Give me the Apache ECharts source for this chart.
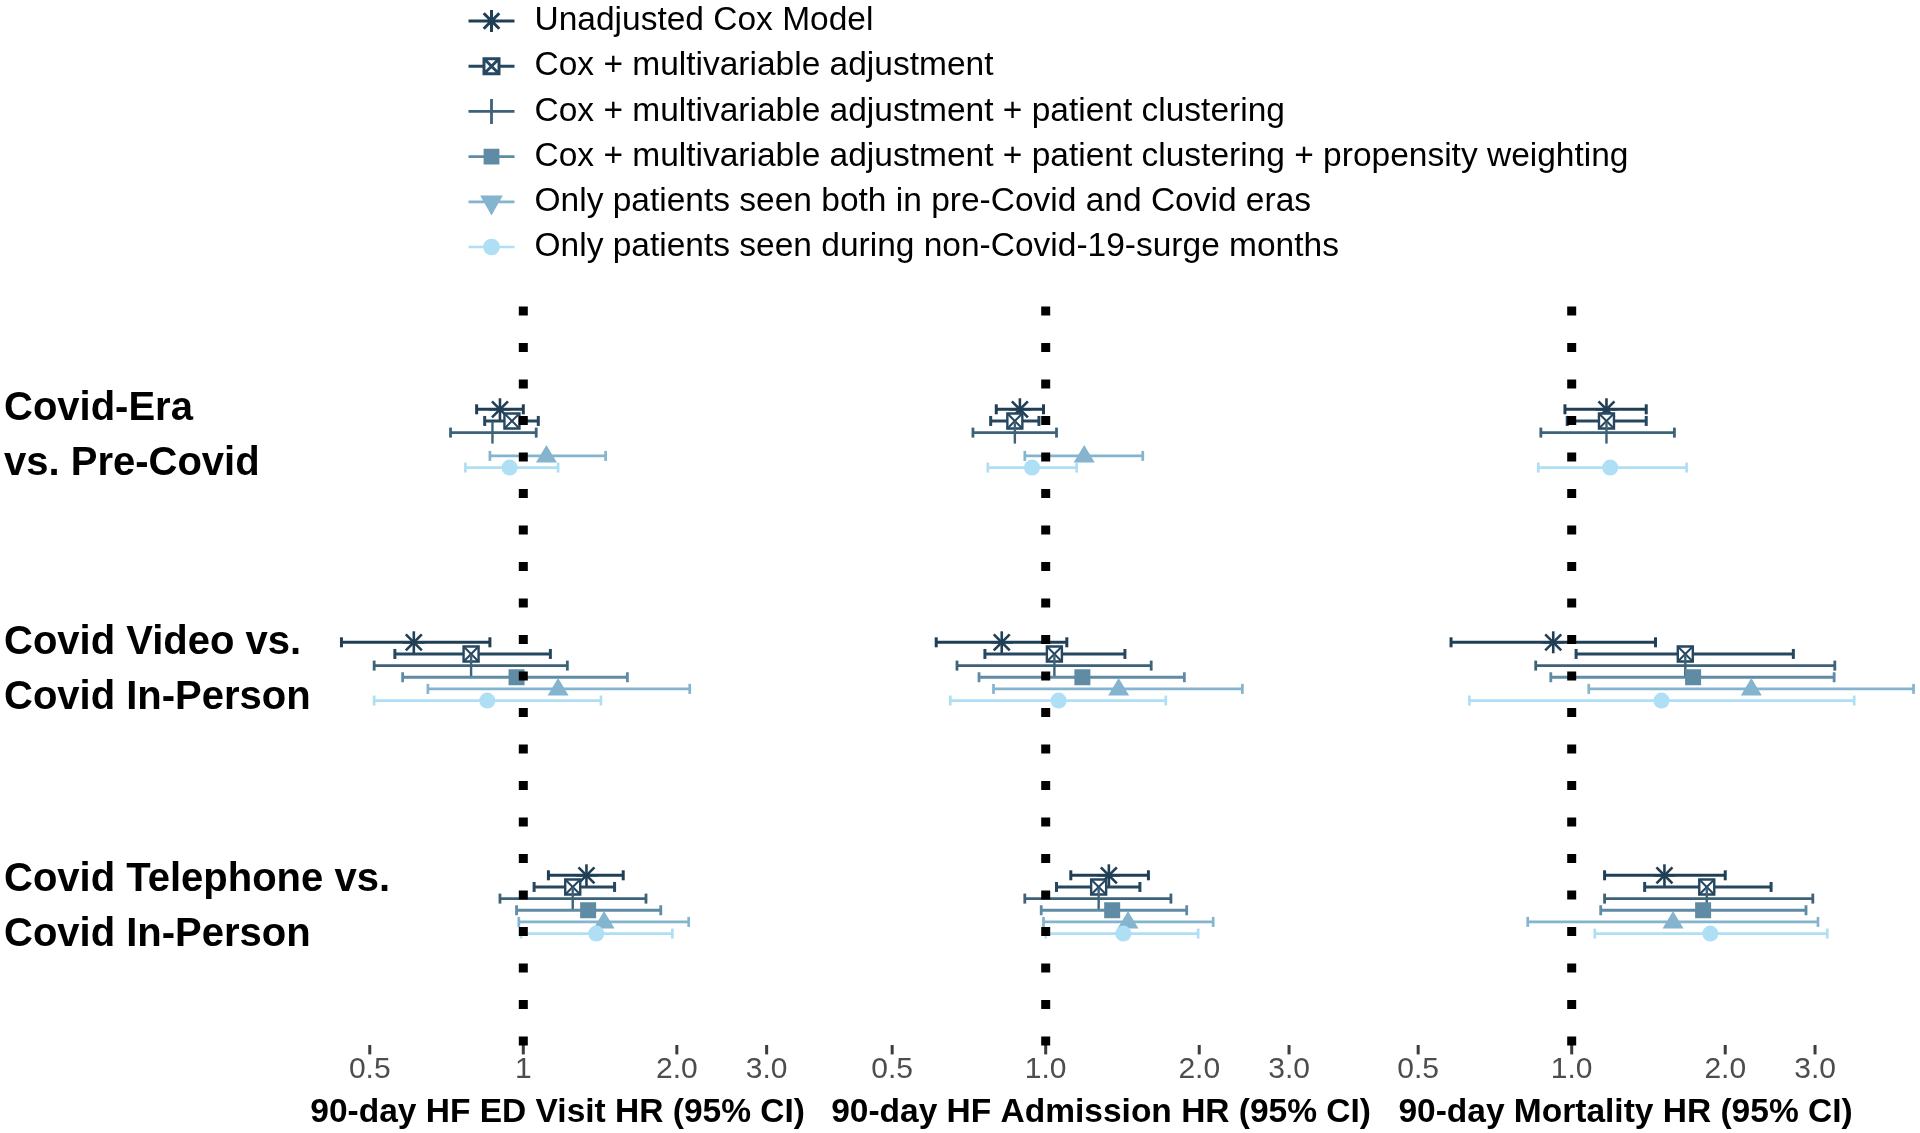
<!DOCTYPE html>
<html>
<head>
<meta charset="utf-8">
<title>Forest plot</title>
<script src="https://cdn.jsdelivr.net/npm/echarts@6/dist/echarts.min.js"></script>
<style>
html,body{margin:0;padding:0;background:#fff;}
#chart{width:1920px;height:1133px;}
</style>
</head>
<body>
<div id="chart"></div>
<script>
// ---------------- data ----------------
const GROUP_LABELS = ['Covid-Era\nvs. Pre-Covid', 'Covid Video vs.\nCovid In-Person', 'Covid Telephone vs.\nCovid In-Person'];
const MODELS = [
  'Unadjusted Cox Model',
  'Cox + multivariable adjustment',
  'Cox + multivariable adjustment + patient clustering',
  'Cox + multivariable adjustment + patient clustering + propensity weighting',
  'Only patients seen both in pre-Covid and Covid eras',
  'Only patients seen during non-Covid-19-surge months'
];
const OUTCOMES = ['90-day HF ED Visit HR (95% CI)', '90-day HF Admission HR (95% CI)', '90-day Mortality HR (95% CI)'];
const TICK_VALUES = [0.5, 1, 2, 3];
const TICK_LABELS_ED = ['0.5', '1', '2.0', '3.0'];
const TICK_LABELS_ADM = ['0.5', '1.0', '2.0', '3.0'];
const TICK_LABELS_MORT = ['0.5', '1.0', '2.0', '3.0'];

// [HR, lower 95% CI, upper 95% CI] for Covid-Era, Video, Telephone
const edUnadjusted     = [[0.90, 0.81, 1.00], [0.61, 0.44, 0.86], [1.33, 1.12, 1.57]];
const edMultivariable  = [[0.95, 0.84, 1.07], [0.79, 0.56, 1.13], [1.25, 1.05, 1.51]];
const edClustering     = [[0.87, 0.72, 1.06], [0.79, 0.51, 1.22], [1.25, 0.90, 1.74]];
const edPropensity     = [null,               [0.97, 0.58, 1.60], [1.34, 0.97, 1.86]];
const edBothEras       = [[1.11, 0.86, 1.45], [1.17, 0.65, 2.12], [1.44, 0.98, 2.11]];
const edNonSurge       = [[0.94, 0.77, 1.17], [0.85, 0.51, 1.42], [1.39, 0.99, 1.96]];

const admUnadjusted    = [[0.89, 0.80, 0.99], [0.82, 0.61, 1.10], [1.33, 1.12, 1.59]];
const admMultivariable = [[0.87, 0.78, 0.97], [1.04, 0.76, 1.43], [1.27, 1.05, 1.53]];
const admClustering    = [[0.87, 0.72, 1.05], [1.04, 0.67, 1.61], [1.27, 0.91, 1.76]];
const admPropensity    = [null,               [1.18, 0.74, 1.87], [1.35, 0.98, 1.89]];
const admBothEras      = [[1.19, 0.91, 1.55], [1.39, 0.79, 2.43], [1.45, 0.99, 2.13]];
const admNonSurge      = [[0.94, 0.77, 1.15], [1.06, 0.65, 1.72], [1.42, 1.00, 1.99]];

const mortUnadjusted    = [[1.17, 0.97, 1.40], [0.92, 0.58, 1.46], [1.52, 1.16, 2.00]];
const mortMultivariable = [[1.17, 0.98, 1.40], [1.67, 1.02, 2.72], [1.84, 1.39, 2.46]];
const mortClustering    = [[1.17, 0.87, 1.59], [1.67, 0.85, 3.28], [1.84, 1.16, 2.97]];
const mortPropensity    = [null,               [1.73, 0.91, 3.27], [1.81, 1.14, 2.88]];
const mortBothEras      = [null,               [2.25, 1.08, 4.68], [1.58, 0.82, 3.04]];
const mortNonSurge      = [[1.19, 0.86, 1.68], [1.50, 0.63, 3.58], [1.87, 1.11, 3.17]];

const REFERENCE_HR = 1;

// ---------------- layout / style ----------------
const PANEL_DATA = [
  [edUnadjusted, edMultivariable, edClustering, edPropensity, edBothEras, edNonSurge],
  [admUnadjusted, admMultivariable, admClustering, admPropensity, admBothEras, admNonSurge],
  [mortUnadjusted, mortMultivariable, mortClustering, mortPropensity, mortBothEras, mortNonSurge]
];
const PANEL_TICK_LABELS = [TICK_LABELS_ED, TICK_LABELS_ADM, TICK_LABELS_MORT];
const COLORS = ['#203f55', '#264760', '#3e6278', '#5f8ba5', '#84b4ce', '#aedff4'];
const LINE_W = [3, 3, 2.8, 2.8, 2.7, 2.7];
const FONT = '"Liberation Sans", Arial, Helvetica, sans-serif';

const ONE_PX = [523.3, 1045.7, 1571.7];   // pixel x of HR = 1 in each panel
const PX_PER_LN = 221.5;
const LN_RANGE = [[-0.85, 1.16], [-1.0, 1.5], [-1.08, 1.566]];
const GRID_TOP = 300, GRID_BOTTOM = 1055;
const TICK_TOP_PX = 1045;
const ROW0_PX = 409.3, ROW_PX = 11.65, ROWS_PER_GROUP = 20;
const Y_MIN = (GRID_TOP - ROW0_PX) / ROW_PX;
const Y_MAX = (GRID_BOTTOM - ROW0_PX) / ROW_PX;
const Y_TICK = (TICK_TOP_PX - ROW0_PX) / ROW_PX;
const REF_LINE_ROWS = [(306.5 - ROW0_PX) / ROW_PX, (1045.5 - ROW0_PX) / ROW_PX];
const GROUP_LABEL_ROWS = [2.3, 22.45, 42.8];

function rowOf(g, m) { return g * ROWS_PER_GROUP + m; }

function makeRenderItem(m) {
  return function (params, api) {
    const row = api.value(3);
    const p = api.coord([api.value(0), row]);
    const pLo = api.coord([api.value(1), row]);
    const pHi = api.coord([api.value(2), row]);
    const c = COLORS[m];
    const lw = LINE_W[m];
    const y = p[1];
    const kids = [
      { type: 'line', shape: { x1: pLo[0], y1: y, x2: pHi[0], y2: y }, style: { stroke: c, lineWidth: lw } },
      { type: 'line', shape: { x1: pLo[0], y1: y - 5, x2: pLo[0], y2: y + 5 }, style: { stroke: c, lineWidth: lw } },
      { type: 'line', shape: { x1: pHi[0], y1: y - 5, x2: pHi[0], y2: y + 5 }, style: { stroke: c, lineWidth: lw } }
    ];
    const x = p[0];
    if (m === 0) {
      kids.push({ type: 'line', shape: { x1: x, y1: y - 11, x2: x, y2: y + 11 }, style: { stroke: c, lineWidth: 2.6 } });
      kids.push({ type: 'line', shape: { x1: x - 8, y1: y - 8, x2: x + 8, y2: y + 8 }, style: { stroke: c, lineWidth: 2.6 } });
      kids.push({ type: 'line', shape: { x1: x + 8, y1: y - 8, x2: x - 8, y2: y + 8 }, style: { stroke: c, lineWidth: 2.6 } });
      kids.push({ type: 'line', shape: { x1: x - 11, y1: y, x2: x + 11, y2: y }, style: { stroke: c, lineWidth: 2.6 } });
    } else if (m === 1) {
      kids.push({ type: 'rect', shape: { x: x - 7.5, y: y - 7.5, width: 15, height: 15 }, style: { stroke: c, fill: '#fff', lineWidth: 2.4 } });
      kids.push({ type: 'line', shape: { x1: x - 7.5, y1: y - 7.5, x2: x + 7.5, y2: y + 7.5 }, style: { stroke: c, lineWidth: 2 } });
      kids.push({ type: 'line', shape: { x1: x + 7.5, y1: y - 7.5, x2: x - 7.5, y2: y + 7.5 }, style: { stroke: c, lineWidth: 2 } });
    } else if (m === 2) {
      kids.push({ type: 'line', shape: { x1: x, y1: y - 11, x2: x, y2: y + 11 }, style: { stroke: c, lineWidth: 2.4 } });
    } else if (m === 3) {
      kids.push({ type: 'rect', shape: { x: x - 8, y: y - 8, width: 16, height: 16 }, style: { fill: c } });
    } else if (m === 4) {
      kids.push({ type: 'polygon', shape: { points: [[x, y - 11], [x - 10.5, y + 6.5], [x + 10.5, y + 6.5]] }, style: { fill: c } });
    } else {
      kids.push({ type: 'circle', shape: { cx: x, cy: y, r: 8 }, style: { fill: c } });
    }
    return { type: 'group', children: kids };
  };
}

function renderTick(params, api) {
  const p0 = api.coord([api.value(0), api.value(1)]);
  const p1 = api.coord([api.value(0), api.value(2)]);
  return {
    type: 'rect',
    shape: { x: p0[0] - 1.5, y: p0[1], width: 3, height: p1[1] - p0[1] },
    style: { fill: '#3d3d3d' }
  };
}

// legend icons (box 61 x 26, drawing in 0..46)
const BOX = 'M0 0L0 0M61 26L61 26';
const LEGEND_ICONS = [
  'path://' + BOX + 'M0 13L46 13M23 2L23 24M15.2 5.2L30.8 20.8M30.8 5.2L15.2 20.8',
  'path://' + BOX + 'M0 13L15.5 13M30.5 13L46 13M15.5 5.5L30.5 5.5L30.5 20.5L15.5 20.5Z M15.5 5.5L30.5 20.5M30.5 5.5L15.5 20.5',
  'path://' + BOX + 'M0 13L46 13M23 0.5L23 25.5',
  'path://' + BOX + 'M0 13L46 13M16.5 6.5L29.5 6.5L29.5 19.5L16.5 19.5Z',
  'path://' + BOX + 'M0 13L46 13M14 8L32 8L23 24Z',
  'path://' + BOX + 'M0 13L46 13M30 13A7 7 0 1 1 16 13A7 7 0 1 1 30 13Z'
];
const LEGEND_FILLED = [false, false, false, true, true, true];

const grids = [], xAxes = [], yAxes = [], series = [];
for (let i = 0; i < 3; i++) {
  const left = ONE_PX[i] + PX_PER_LN * LN_RANGE[i][0];
  const width = PX_PER_LN * (LN_RANGE[i][1] - LN_RANGE[i][0]);
  grids.push({ left: left, width: width, top: GRID_TOP, height: GRID_BOTTOM - GRID_TOP, outerBoundsMode: 'none', containLabel: false });
  const labels = PANEL_TICK_LABELS[i];
  xAxes.push({
    type: 'log', logBase: 10, gridIndex: i, position: 'bottom',
    min: Math.exp(LN_RANGE[i][0]), max: Math.exp(LN_RANGE[i][1]),
    axisLine: { show: false, onZero: false },
    splitLine: { show: false }, minorTick: { show: false },
    axisTick: { show: false },
    axisLabel: {
      customValues: TICK_VALUES, margin: 0, fontSize: 30, color: '#4d4d4d', fontFamily: FONT,
      formatter: function (v) {
        let k = 0, best = Infinity;
        TICK_VALUES.forEach(function (t, j) { const d = Math.abs(t - v); if (d < best) { best = d; k = j; } });
        return labels[k];
      }
    },
    name: OUTCOMES[i], nameLocation: 'middle', nameGap: 41, nameMoveOverlap: false,
    nameTextStyle: { fontSize: 33.5, fontWeight: 'bold', color: '#000', fontFamily: FONT }
  });
  yAxes.push({
    type: 'value', gridIndex: i, min: Y_MIN, max: Y_MAX, inverse: true,
    axisLine: { show: false, onZero: false }, axisTick: { show: false }, splitLine: { show: false },
    axisLabel: i === 0 ? {
      show: true, customValues: GROUP_LABEL_ROWS, align: 'left', margin: left - 4,
      fontSize: 40, fontWeight: 'bold', color: '#000', fontFamily: FONT, lineHeight: 55,
      formatter: function (v) {
        let k = 0, best = Infinity;
        GROUP_LABEL_ROWS.forEach(function (t, j) { const d = Math.abs(t - v); if (d < best) { best = d; k = j; } });
        return GROUP_LABELS[k];
      }
    } : { show: false }
  });
  for (let m = 0; m < MODELS.length; m++) {
    const arr = PANEL_DATA[i][m];
    const data = [];
    arr.forEach(function (d, g) { if (d) data.push([d[0], d[1], d[2], rowOf(g, m)]); });
    series.push({
      type: 'custom', name: MODELS[m], xAxisIndex: i, yAxisIndex: i,
      renderItem: makeRenderItem(m), data: data, z: 2, silent: true,
      encode: { x: [0, 1, 2], y: 3 }, itemStyle: { color: COLORS[m] }
    });
  }
  // axis tick marks at the tick values, at the foot of the panel
  series.push({
    type: 'custom', xAxisIndex: i, yAxisIndex: i, silent: true, z: 3,
    renderItem: renderTick, encode: { x: 0, y: [1, 2] },
    data: TICK_VALUES.map(function (v) { return [v, Y_TICK, Y_MAX - 0.05]; })
  });
  series.push({
    type: 'line', xAxisIndex: i, yAxisIndex: i, silent: true, z: 10, symbol: 'none',
    data: [[REFERENCE_HR, REF_LINE_ROWS[0]], [REFERENCE_HR, REF_LINE_ROWS[1]]],
    lineStyle: { color: '#000', width: 9, type: [9, 27.5], cap: 'butt' }
  });
}

const option = {
  backgroundColor: '#fff',
  animation: false,
  textStyle: { fontFamily: FONT },
  legend: {
    orient: 'vertical', left: 466, top: 4, padding: 0, itemGap: 11.2,
    itemWidth: 61, itemHeight: 26, selectedMode: false,
    textStyle: { fontSize: 33.5, color: '#000', fontFamily: FONT, lineHeight: 34 },
    data: MODELS.map(function (name, m) {
      return {
        name: name, icon: LEGEND_ICONS[m],
        itemStyle: { color: LEGEND_FILLED[m] ? COLORS[m] : 'none', borderColor: COLORS[m], borderWidth: LINE_W[m], opacity: 1 }
      };
    })
  },
  grid: grids, xAxis: xAxes, yAxis: yAxes, series: series
};

const chart = echarts.init(document.getElementById('chart'), null, { renderer: 'canvas' });
chart.setOption(option);
</script>
</body>
</html>
